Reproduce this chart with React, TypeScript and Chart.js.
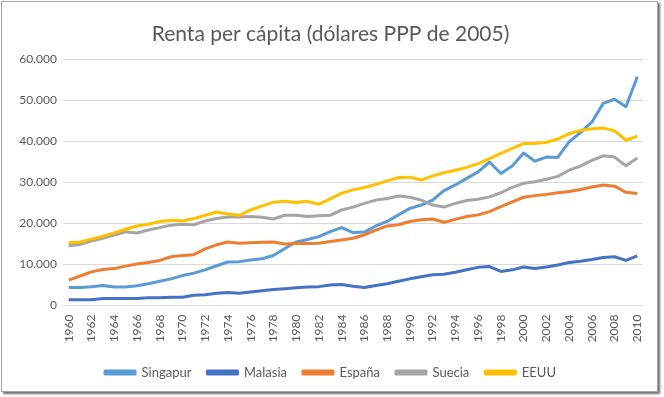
import React, { useEffect, useRef } from 'react';
import { Chart, registerables } from 'chart.js';

Chart.register(...registerables);

const years = [
  '1960', '1961', '1962', '1963', '1964', '1965', '1966', '1967', '1968', '1969',
  '1970', '1971', '1972', '1973', '1974', '1975', '1976', '1977', '1978', '1979',
  '1980', '1981', '1982', '1983', '1984', '1985', '1986', '1987', '1988', '1989',
  '1990', '1991', '1992', '1993', '1994', '1995', '1996', '1997', '1998', '1999',
  '2000', '2001', '2002', '2003', '2004', '2005', '2006', '2007', '2008', '2009',
  '2010',
];

const singapur = [
  4400, 4400, 4600, 4900, 4500, 4500, 4800, 5300, 5900, 6500,
  7300, 7900, 8700, 9700, 10600, 10700, 11100, 11400, 12200, 13900,
  15500, 16100, 16800, 18000, 19000, 17800, 17900, 19400, 20500, 22100,
  23700, 24500, 25700, 28000, 29400, 31000, 32600, 35000, 32200, 34000,
  37200, 35200, 36200, 36100, 39900, 42200, 44700, 49300, 50300, 48500,
  55800,
];

const malasia = [
  1400, 1400, 1400, 1700, 1700, 1700, 1700, 1900, 1900, 2000,
  2000, 2500, 2600, 3000, 3200, 3000, 3300, 3600, 3900, 4100,
  4300, 4500, 4600, 5000, 5100, 4700, 4400, 4900, 5300, 5900,
  6500, 7000, 7500, 7600, 8100, 8700, 9300, 9500, 8300, 8700,
  9400, 9000, 9400, 9900, 10500, 10800, 11200, 11700, 11900, 11000,
  12100,
];

const espana = [
  6200, 7200, 8200, 8800, 9000, 9600, 10100, 10500, 11000, 11900,
  12200, 12400, 13800, 14800, 15500, 15200, 15300, 15400, 15500, 15000,
  15100, 15100, 15200, 15600, 16000, 16400, 17200, 18400, 19400, 19700,
  20500, 20900, 21100, 20300, 21000, 21700, 22100, 22900, 24100, 25300,
  26400, 26800, 27100, 27500, 27800, 28300, 28900, 29400, 29100, 27600,
  27300,
];

const suecia = [
  14600, 14900, 15700, 16400, 17200, 18000, 17700, 18400, 19000, 19600,
  19800, 19700, 20600, 21200, 21600, 21600, 21700, 21500, 21100, 22000,
  22000, 21700, 21900, 22000, 23300, 24000, 24900, 25700, 26100, 26700,
  26400, 25700, 24500, 24000, 24900, 25600, 25900, 26500, 27500, 28800,
  29800, 30200, 30800, 31500, 33000, 34000, 35400, 36500, 36200, 34100,
  36000,
];

const eeuu = [
  15300, 15500, 16200, 16900, 17700, 18600, 19400, 19800, 20500, 20800,
  20600, 21200, 22000, 22800, 22300, 22000, 23300, 24300, 25200, 25400,
  25100, 25400, 24700, 26000, 27400, 28200, 28800, 29500, 30400, 31200,
  31300, 30600, 31600, 32400, 33000, 33700, 34600, 35800, 37100, 38300,
  39500, 39500, 39800, 40600, 41900, 42700, 43100, 43300, 42600, 40300,
  41300,
];

const seriesNames = ['Singapur', 'Malasia', 'España', 'Suecia', 'EEUU'];
const seriesColors = ['#5B9BD5', '#4472C4', '#ED7D31', '#A5A5A5', '#FFC000'];
const titleText = 'Renta per cápita (dólares PPP de 2005)';

const FONT = 'Lato, "Open Sans", "Liberation Sans", sans-serif';
const TEXT_COLOR = '#595959';

function fmt(v: number): string {
  return String(v).replace(/\B(?=(\d{3})+(?!\d))/g, '.');
}

export default function App() {
  const canvasRef = useRef<HTMLCanvasElement | null>(null);

  useEffect(() => {
    document.body.style.margin = '0';
    const canvas = canvasRef.current;
    if (!canvas) return;
    const seriesData = [singapur, malasia, espana, suecia, eeuu];
    const chart = new Chart(canvas, {
      type: 'line',
      data: {
        labels: years,
        datasets: seriesNames.map((name, i) => ({
          label: name,
          data: seriesData[i],
          borderColor: seriesColors[i],
          backgroundColor: seriesColors[i],
          borderWidth: 3,
          pointRadius: 0,
          pointHoverRadius: 0,
          tension: 0,
          fill: false,
          borderJoinStyle: 'round' as const,
          borderCapStyle: 'butt' as const,
          order: seriesNames.length - i,
        })),
      },
      options: {
        responsive: false,
        animation: false,
        layout: { padding: { left: 18, right: 21, top: 0, bottom: 8 } },
        plugins: {
          tooltip: { enabled: false },
          title: {
            display: true,
            text: titleText,
            color: TEXT_COLOR,
            font: { family: FONT, size: 21, weight: 'normal' },
            padding: { top: 21.5, bottom: 12.8 },
          },
          legend: {
            display: true,
            position: 'bottom',
            labels: {
              color: TEXT_COLOR,
              font: { family: FONT, size: 13 },
              boxWidth: 30,
              boxHeight: 3,
              padding: 16,
              sort: (a: any, b: any) => a.datasetIndex - b.datasetIndex,
            },
          },
        },
        scales: {
          x: {
            type: 'category',
            offset: true,
            grid: { display: false, drawTicks: false },
            border: { display: false },
            ticks: {
              autoSkip: false,
              minRotation: 90,
              maxRotation: 90,
              padding: 9,
              color: TEXT_COLOR,
              font: { family: FONT, size: 12 },
              callback: (_v: any, idx: number) => (idx % 2 === 0 ? years[idx] : ''),
            },
            afterFit: (scale: any) => {
              scale.height = 44.5;
            },
          },
          y: {
            min: 0,
            max: 60000,
            grid: { color: '#D9D9D9', lineWidth: 1, drawTicks: false },
            border: { display: false },
            ticks: {
              stepSize: 10000,
              padding: 6,
              color: TEXT_COLOR,
              font: { family: FONT, size: 12 },
              callback: (v: any) => fmt(Number(v)),
            },
            afterFit: (scale: any) => {
              scale.width = 45;
            },
          },
        },
      },
    });
    return () => {
      chart.destroy();
    };
  }, []);

  return (
    <div style={{ position: 'relative', width: 664, height: 397, background: '#ffffff' }}>
      <div
        style={{
          position: 'absolute',
          left: 1,
          top: 1,
          width: 655,
          height: 389,
          border: '1px solid #A6A6A6',
          boxShadow: '2px 2px 2px #6f6f6f',
          background: '#ffffff',
        }}
      />
      <canvas
        ref={canvasRef}
        width={664}
        height={397}
        style={{ position: 'absolute', left: 0, top: 0, width: 664, height: 397 }}
      />
    </div>
  );
}
